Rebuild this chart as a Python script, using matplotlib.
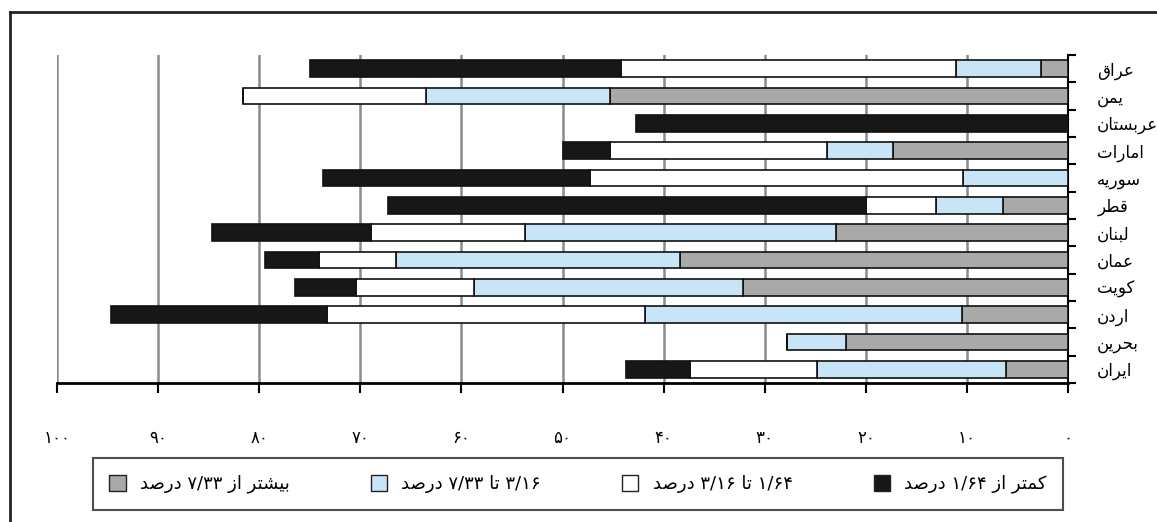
import matplotlib
matplotlib.use('Agg')
import matplotlib.pyplot as plt
from matplotlib.patches import Patch
from matplotlib.lines import Line2D
import numpy as np

countries = ['عراق', 'یمن', 'عربستان', 'امارات', 'سوریه', 'قطر', 'لبنان', 'عمان', 'کویت', 'اردن', 'بحرین', 'ایران']
over_733 = [2.7, 45.3, 0, 17.3, 0, 6.4, 22.9, 38.4, 32.1, 10.5, 22.0, 6.1]
from_316 = [8.4, 18.2, 0, 6.5, 10.4, 6.7, 30.8, 28.1, 26.7, 31.3, 5.8, 18.7]
from_164 = [33.1, 18.1, 0, 21.5, 36.9, 6.9, 15.2, 7.6, 11.6, 31.5, 0, 12.6]
under_164 = [30.8, 0, 42.7, 4.7, 26.4, 47.3, 15.8, 5.3, 6.1, 21.4, 0, 6.3]
series_labels = ['بیشتر از ۷/۳۳ درصد', '۳/۱۶ تا ۷/۳۳ درصد', '۱/۶۴ تا ۳/۱۶ درصد', 'کمتر از ۱/۶۴ درصد']
xticks = [0, 10, 20, 30, 40, 50, 60, 70, 80, 90, 100]

colors = ['#a9a9a9', '#c7e5f7', '#ffffff', '#171717']

# arabic letters -> presentation forms (isolated, final, initial, medial)
forms = {
    'ا': ('\ufe8d', '\ufe8e'), 'د': ('\ufea9', '\ufeaa'), 'ر': ('\ufead', '\ufeae'),
    'ز': ('\ufeaf', '\ufeb0'), 'و': ('\ufeed', '\ufeee'),
    'ب': ('\ufe8f', '\ufe90', '\ufe91', '\ufe92'), 'ت': ('\ufe95', '\ufe96', '\ufe97', '\ufe98'),
    'ح': ('\ufea1', '\ufea2', '\ufea3', '\ufea4'), 'س': ('\ufeb1', '\ufeb2', '\ufeb3', '\ufeb4'),
    'ش': ('\ufeb5', '\ufeb6', '\ufeb7', '\ufeb8'), 'ص': ('\ufeb9', '\ufeba', '\ufebb', '\ufebc'),
    'ط': ('\ufec1', '\ufec2', '\ufec3', '\ufec4'), 'ع': ('\ufec9', '\ufeca', '\ufecb', '\ufecc'),
    'ق': ('\ufed5', '\ufed6', '\ufed7', '\ufed8'), 'ل': ('\ufedd', '\ufede', '\ufedf', '\ufee0'),
    'م': ('\ufee1', '\ufee2', '\ufee3', '\ufee4'), 'ن': ('\ufee5', '\ufee6', '\ufee7', '\ufee8'),
    'ه': ('\ufee9', '\ufeea', '\ufeeb', '\ufeec'), 'ک': ('\ufb8e', '\ufb8f', '\ufb90', '\ufb91'),
    'ی': ('\ufbfc', '\ufbfd', '\ufbfe', '\ufbff'),
}


def shape_word(w):
    out = []
    for i, ch in enumerate(w):
        f = forms[ch]
        join_prev = i > 0 and len(forms[w[i - 1]]) == 4
        join_next = i + 1 < len(w) and len(f) == 4
        if join_prev and join_next:
            out.append(f[3])
        elif join_prev:
            out.append(f[1])
        elif join_next:
            out.append(f[2])
        else:
            out.append(f[0])
    return ''.join(reversed(out))


def rtl(text):
    words = []
    for w in text.split(' '):
        if w[0] in forms:
            words.append(shape_word(w))
        else:
            words.append(w)
    return ' '.join(reversed(words))


fa_digits = str.maketrans('0123456789', '۰۱۲۳۴۵۶۷۸۹')

fig = plt.figure(figsize=(11.57, 5.22), dpi=100)
ax = fig.add_axes([57 / 1157, 1 - 383 / 522, (1068 - 57) / 1157, (383 - 55) / 522])

y = np.arange(len(countries))
left = np.zeros(len(countries))
for vals, c in zip([over_733, from_316, from_164, under_164], colors):
    vals = np.array(vals)
    ax.barh(y, vals, left=left, height=0.6, color=c, edgecolor='#111111', linewidth=1.2, zorder=3)
    left += vals

ax.set_xlim(100, 0)
ax.set_ylim(11.5, -0.5)
ax.set_axisbelow(True)
ax.xaxis.grid(True, color='#8c8c8c', linewidth=1.8)

for s in ['left', 'top']:
    ax.spines[s].set_visible(False)
ax.spines['bottom'].set_linewidth(2)
ax.spines['right'].set_linewidth(1.5)

ax.set_xticks(xticks)
ax.set_xticklabels([str(v).translate(fa_digits) for v in xticks], fontsize=12)
ax.tick_params(axis='x', direction='out', length=7, width=1.5, pad=26)

ax.yaxis.tick_right()
ax.set_yticks(y)
ax.set_yticklabels([rtl(c) for c in countries], fontsize=12, ha='left')
ax.set_yticks(np.arange(-0.5, len(countries), 1), minor=True)
ax.tick_params(axis='y', which='major', length=0, pad=21)
ax.tick_params(axis='y', which='minor', right=True, left=False, direction='out', length=6, width=1.5)

handles = [Patch(facecolor=c, edgecolor='#222222', linewidth=1) for c in colors]
leg = fig.legend(handles, [rtl(s) for s in series_labels], ncol=4, loc='center',
                 bbox_to_anchor=(93 / 1157, 1 - 513 / 522, (1063 - 93) / 1157, 58 / 522),
                 mode='expand', fontsize=13, frameon=True, fancybox=False, edgecolor='#222222',
                 borderpad=0.9, handlelength=0.9, handleheight=1.0, handletextpad=0.8, borderaxespad=0)
leg.get_frame().set_linewidth(1.5)

fig.add_artist(Line2D([10 / 1157, 10 / 1157], [0, 1 - 12 / 522], transform=fig.transFigure, color='#222222', lw=2))
fig.add_artist(Line2D([10 / 1157, 1], [1 - 12 / 522, 1 - 12 / 522], transform=fig.transFigure, color='#222222', lw=2))

fig.savefig('out.png', dpi=100)
